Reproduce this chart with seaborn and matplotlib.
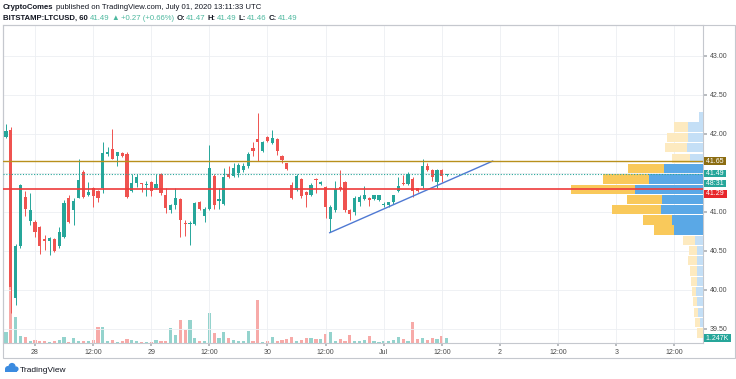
import numpy as np
import pandas as pd
import matplotlib.pyplot as plt
import seaborn as sns
from matplotlib.patches import Rectangle, Circle
from matplotlib.transforms import IdentityTransform

# hourly LTCUSD bars, x = hours since 28 Jun 2020 00:00 UTC
hours = list(range(-6, 86))
opens = [41.96, 42.05, 39.89, 40.56, 41.19, 40.88,
         40.87, 40.80, 40.65, 40.63, 40.65, 40.56, 40.68, 41.18, 41.02, 41.18, 41.51, 41.22,
         41.30, 41.26, 41.31, 41.74, 41.81, 41.71, 41.75, 41.74, 41.27, 41.37, 41.36, 41.34,
         41.38, 41.31, 41.49, 41.22, 41.02, 41.09, 41.16, 40.85, 40.84, 40.84, 41.13, 40.94,
         41.03, 41.46, 41.14, 41.10, 41.49, 41.46, 41.50, 41.53, 41.58, 41.82, 41.93, 41.78,
         41.96, 41.88, 41.93, 41.71, 41.62, 41.34, 41.28, 41.42, 41.25, 41.21, 41.42, 41.35,
         41.32, 40.91, 41.02, 41.32, 41.38, 41.02, 41.00, 41.12, 41.16, 41.18, 41.16, 41.15,
         41.08, 41.08, 41.12, 41.26, 41.37, 41.35, 41.42, 41.30, 41.33, 41.59, 41.54, 41.38,
         41.53, 41.47]
highs = [42.13, 42.08, 40.58, 41.36, 41.26, 41.24,
         40.89, 40.82, 40.70, 40.68, 40.66, 40.81, 41.15, 41.21, 41.18, 41.67, 41.53, 41.38,
         41.32, 41.28, 41.90, 41.83, 42.06, 41.77, 41.76, 41.76, 41.49, 41.49, 41.37, 41.39,
         41.40, 41.49, 41.50, 41.31, 41.10, 41.31, 41.17, 40.89, 40.88, 41.12, 41.14, 41.06,
         41.85, 41.48, 41.31, 41.56, 41.58, 41.62, 41.62, 41.63, 41.77, 41.90, 42.27, 41.91,
         41.97, 42.05, 41.94, 41.73, 41.63, 41.38, 41.49, 41.43, 41.26, 41.37, 41.43, 41.40,
         41.33, 41.08, 41.40, 41.53, 41.39, 41.03, 41.20, 41.21, 41.33, 41.19, 41.22, 41.22,
         41.13, 41.13, 41.22, 41.45, 41.47, 41.51, 41.44, 41.31, 41.68, 41.63, 41.55, 41.55,
         41.55, 41.49]
lows = [41.94, 39.70, 39.80, 40.54, 40.94, 40.83,
        40.68, 40.46, 40.51, 40.45, 40.48, 40.54, 40.66, 40.85, 40.83, 41.17, 41.17, 41.20,
        41.06, 41.12, 41.24, 41.72, 41.67, 41.58, 41.70, 41.17, 41.25, 41.32, 41.25, 41.20,
        41.20, 41.29, 41.22, 40.99, 40.99, 41.04, 40.67, 40.69, 40.57, 40.83, 41.02, 40.87,
        41.02, 41.03, 41.03, 41.08, 41.43, 41.44, 41.45, 41.51, 41.56, 41.71, 41.65, 41.77,
        41.90, 41.87, 41.73, 41.63, 41.54, 41.16, 41.27, 41.18, 41.06, 41.20, 41.24, 41.34,
        40.92, 40.74, 41.00, 41.27, 41.00, 40.89, 40.96, 41.07, 41.15, 41.07, 41.15, 41.14,
        41.06, 41.06, 41.10, 41.25, 41.34, 41.34, 41.19, 41.25, 41.30, 41.52, 41.40, 41.31,
        41.38, 41.46]
closes = [42.04, 40.04, 40.56, 41.34, 41.03, 41.02,
          40.74, 40.56, 40.62, 40.66, 40.50, 40.74, 41.11, 40.87, 41.14, 41.41, 41.19, 41.25,
          41.20, 41.17, 41.75, 41.77, 41.68, 41.76, 41.72, 41.19, 41.37, 41.44, 41.35, 41.36,
          41.27, 41.36, 41.24, 41.05, 41.08, 41.18, 40.89, 40.84, 40.86, 41.11, 41.03, 41.04,
          41.56, 41.09, 41.16, 41.44, 41.45, 41.56, 41.60, 41.58, 41.74, 41.78, 41.90, 41.90,
          41.91, 41.95, 41.78, 41.66, 41.55, 41.18, 41.46, 41.20, 41.21, 41.34, 41.41, 41.38,
          41.06, 41.06, 41.29, 41.29, 41.02, 40.97, 41.18, 41.19, 41.21, 41.15, 41.21, 41.21,
          41.10, 41.12, 41.21, 41.33, 41.35, 41.48, 41.27, 41.27, 41.58, 41.54, 41.44, 41.53,
          41.46, 41.49]
volumes = [2700, 17500, 6400, 1830, 1580, 380,
           750, 580, 380, 250, 380, 750, 1580, 250, 1250, 580, 380, 500,
           830, 4080, 4080, 380, 680, 330, 380, 1080, 750, 380, 250, 250,
           250, 750, 580, 580, 3750, 2000, 5750, 3250, 5750, 1180, 430, 500,
           7580, 2500, 1180, 2680, 1330, 750, 500, 380, 2930, 380, 10830, 250,
           380, 1580, 500, 750, 1000, 1580, 580, 750, 1250, 1250, 930, 1000,
           2250, 2830, 500, 1080, 430, 2080, 500, 380, 750, 1830, 380, 250,
           380, 580, 750, 1580, 1000, 430, 5330, 1000, 1250, 750, 1180, 1080,
           1830, 1247]

# drawn levels and trend line
resistance = 41.65
support = 41.29
last_price = 41.49
trend_hours = [60.8, 94.5]
trend_prices = [40.73, 41.65]

# visible range volume profile (top row first)
vp_prices = [42.215, 42.085, 41.955, 41.82, 41.685, 41.555, 41.42, 41.29, 41.16, 41.03,
             40.895, 40.765, 40.635, 40.50, 40.37, 40.24, 40.105, 39.975, 39.845, 39.71,
             39.58, 39.445]
vp_up = [4, 15, 15, 16, 13, 38.7, 54, 68, 41.3, 42, 31.3, 29, 8, 6, 6, 6, 6, 7, 6, 5, 3, 0]
vp_down = [0, 14, 21, 22, 18, 36.6, 45.7, 64.3, 34.4, 48.7, 28.4, 19.7, 12, 8, 9, 7, 6,
           4, 4, 4, 5, 6]
vp_value_area = [False] * 5 + [True] * 7 + [False] * 10

x_ticks = list(range(0, 133, 12))
x_labels = ['28', '12:00', '29', '12:00', '30', '12:00', 'Jul', '12:00', '2', '12:00',
            '3', '12:00']
y_ticks = [39.5, 40.0, 40.5, 41.0, 41.5, 42.0, 42.5, 43.0]
# 41.50 sits under the last-price tag
y_labels = ['39.50', '40.00', '40.50', '41.00', '', '42.00', '42.50', '43.00']

GREEN = '#26a69a'
RED = '#ef5350'
GOLD = '#b8901c'
SUPPORT_RED = '#ee3b3b'
TREND = '#4f79d3'
AXIS_TXT = '#4a4a4a'
DARK = '#131722'

sns.set_theme(style='white')
plt.rcParams['font.family'] = ['Liberation Sans', 'DejaVu Sans']

df = pd.DataFrame({'hour': hours, 'open': opens, 'high': highs, 'low': lows,
                   'close': closes, 'volume': volumes})
up = df['close'] >= df['open']
colors = np.where(up, GREEN, RED)
vol_colors = np.where(up, '#94d3cd', '#f7aaa8')

W, H = 736, 379
fig = plt.figure(figsize=(W / 100, H / 100), dpi=100)
fig.patch.set_facecolor('white')
ax = fig.add_axes([3 / W, 1 - 343 / H, 700 / W, 318 / H])
vax = ax.twinx()
ax.set_zorder(2)
vax.set_zorder(1)
ax.patch.set_visible(False)

# volume pane
vax.bar(df['hour'], df['volume'], width=0.66, color=vol_colors, linewidth=0)
vax.set_ylim(0, 79500)
vax.set_yticks([])
for s in vax.spines.values():
    s.set_visible(False)

# candles
ax.vlines(df['hour'], df['low'], df['high'], colors=colors, linewidth=0.7, zorder=3)
body_bottom = np.minimum(df['open'], df['close'])
body_h = np.maximum((df['close'] - df['open']).abs(), 0.012)
ax.bar(df['hour'], body_h, bottom=body_bottom, width=0.66, color=colors, linewidth=0, zorder=4)

# trend line
sns.lineplot(x=trend_hours, y=trend_prices, ax=ax, color=TREND, linewidth=1.0, zorder=5)

# volume profile
vp = ax.inset_axes([1 - 210 / 700, 0, 210 / 700, 1])
vp.set_zorder(5)
up_cols = ['#5aa8e6' if va else '#c4dff6' for va in vp_value_area]
dn_cols = ['#f9c95b' if va else '#fdeac0' for va in vp_value_area]
vp.barh(vp_prices, vp_up, height=0.118, color=up_cols, linewidth=0)
vp.barh(vp_prices, vp_down, left=vp_up, height=0.118, color=dn_cols, linewidth=0)
vp.set_xlim(210, 0)
vp.axis('off')
vp.patch.set_visible(False)

# levels
ax.axhline(resistance, color=GOLD, linewidth=1.0, zorder=6)
ax.axhline(support, color=SUPPORT_RED, linewidth=1.2, zorder=6)
ax.axhline(last_price, color=GREEN, linewidth=0.8, linestyle=(0, (1, 1.5)), zorder=6)

ax.set_xlim(-6.6, 137.9)
ax.set_ylim(39.317, 43.394)
vp.set_ylim(39.317, 43.394)
ax.set_xticks(x_ticks)
ax.set_xticklabels(x_labels)
ax.set_yticks(y_ticks)
ax.set_yticklabels(y_labels)
ax.yaxis.tick_right()
ax.tick_params(axis='x', length=2, pad=2, labelsize=5, colors='#b0b3b8', labelcolor=AXIS_TXT,
               direction='out', bottom=True)
ax.tick_params(axis='y', length=3, pad=2, labelsize=5, colors='#b0b3b8', labelcolor=AXIS_TXT,
               direction='out', right=True, left=False)
ax.grid(True, color='#eceff3', linewidth=0.6)
ax.set_axisbelow(True)
ax.set_xlabel('')
ax.set_ylabel('')
for s in ax.spines.values():
    s.set_color('#c5c8ce')
    s.set_linewidth(0.8)

# price labels on the right scale
def price_tag(axis, y, text, color, dy=0, ycoords='data'):
    axis.annotate(text, xy=(1, y), xycoords=('axes fraction', ycoords), xytext=(1.5, dy),
                  textcoords='offset pixels', ha='left', va='center', fontsize=5,
                  color='white', zorder=10, annotation_clip=False,
                  bbox=dict(boxstyle='square,pad=0.05', fc=color, ec='none'))

price_tag(ax, resistance, ' 41.65 ', '#8c6d12')
price_tag(ax, last_price, ' 41.49 ', GREEN)
price_tag(ax, last_price, ' 48:31 ', GREEN, dy=-10)
price_tag(ax, support, ' 41.29 ', '#e8262b', dy=-4.8)
price_tag(ax, volumes[-1], ' 1.247K ', GREEN, ycoords=vax.transData)

# outer frame
fig.add_artist(Rectangle((3 / W, 1 - 358 / H), 732 / W, 333 / H, transform=fig.transFigure,
                         fill=False, ec='#c5c8ce', lw=0.8))

# header
def place_pieces(x, y, pieces, size):
    r = fig.canvas.get_renderer()
    for text, color, weight, gap in pieces:
        t = fig.text(x, y, text, transform=IdentityTransform(), fontsize=size, color=color,
                     fontweight=weight, va='baseline')
        x = t.get_window_extent(r).x1 + gap

VAL = '#4db89f'
place_pieces(3, H - 9, [('CryptoComes', DARK, 'bold', 2),
                        ('published on TradingView.com, July 01, 2020 13:11:33 UTC', DARK, 'normal', 0)], 5.6)
place_pieces(3, H - 19.5, [('BITSTAMP:LTCUSD, 60', DARK, 'bold', 2), ('41.49', VAL, 'normal', 2),
                           ('▲', VAL, 'normal', 2), ('+0.27 (+0.66%)', VAL, 'normal', 2.5),
                           ('O:', DARK, 'bold', 0.5), ('41.47', VAL, 'normal', 2.5),
                           ('H:', DARK, 'bold', 0.5), ('41.49', VAL, 'normal', 2.5),
                           ('L:', DARK, 'bold', 0.5), ('41.46', VAL, 'normal', 2.5),
                           ('C:', DARK, 'bold', 0.5), ('41.49', VAL, 'normal', 0)], 5.6)

# TradingView logo
for cx, cy, rad in [(8, 10, 3), (12, 12.5, 3.6), (16, 10, 2.6)]:
    fig.add_artist(Circle((cx, cy), rad, transform=IdentityTransform(), color='#3b8be0', lw=0))
fig.add_artist(Rectangle((5, 7), 12, 3.5, transform=IdentityTransform(), color='#3b8be0', lw=0))
fig.text(19.5, 7.5, 'TradingView', transform=IdentityTransform(), fontsize=6, color=DARK,
         va='baseline')

fig.savefig('out.png', dpi=100)
